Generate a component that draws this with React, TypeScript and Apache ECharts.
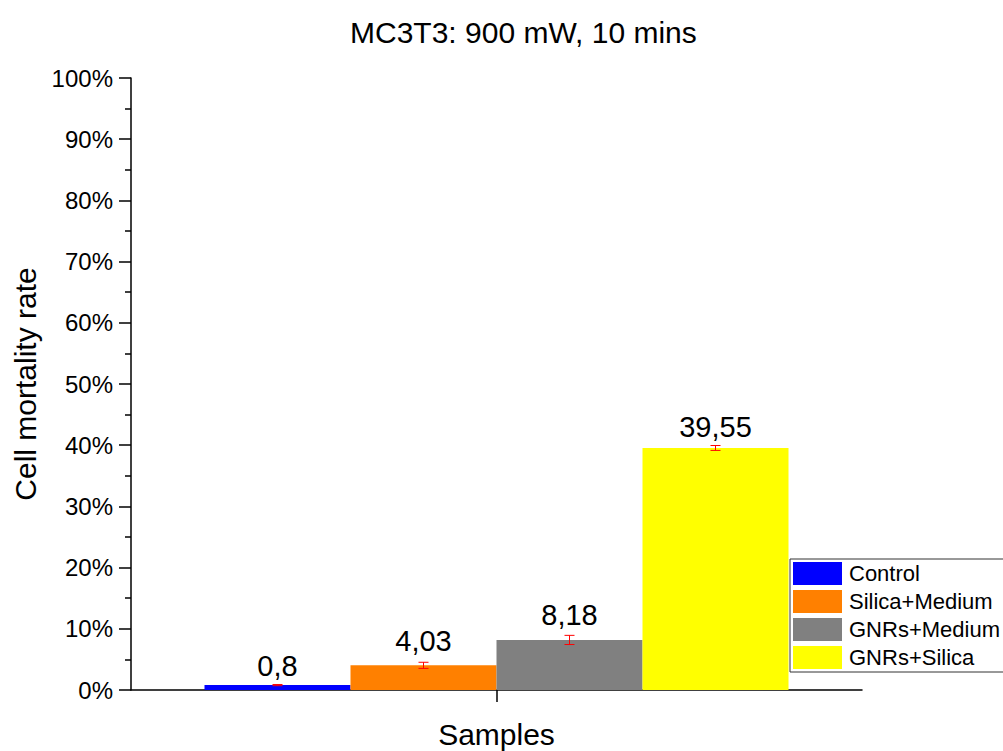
import React, { useEffect, useRef } from "react";
import * as echarts from "echarts";

const categories = ["Samples"];
const seriesNames = ["Control", "Silica+Medium", "GNRs+Medium", "GNRs+Silica"];
const seriesValues = [0.8, 4.03, 8.18, 39.55];
const seriesErrors = [0.1, 0.5, 0.75, 0.4];
const seriesColors = ["#0000FF", "#FF8000", "#808080", "#FFFF00"];
const yTicks = [0, 10, 20, 30, 40, 50, 60, 70, 80, 90, 100];

const FONT = "'Liberation Sans', Arial, sans-serif";
const BAR_WIDTH = 146;
const LABEL_DISTANCES = [5, 10, 10, 6];

export default function App() {
  const ref = useRef<HTMLDivElement>(null);
  useEffect(() => {
    if (!ref.current) return;
    const chart = echarts.init(ref.current, null, { renderer: "svg" });
    const barSeries = seriesNames.map((name, i) => ({
      name,
      type: "bar",
      data: [seriesValues[i]],
      barWidth: BAR_WIDTH,
      barGap: "0%",
      itemStyle: { color: seriesColors[i] },
      label: {
        show: true,
        position: "top",
        distance: LABEL_DISTANCES[i],
        fontSize: 29,
        fontFamily: FONT,
        color: "#000",
        formatter: (p: any) => String(p.value).replace(".", ","),
      },
      z: 2,
    }));
    const errData = seriesValues.map((v, i) => [0, v, seriesErrors[i], i]);
    const option: any = {
      animation: false,
      backgroundColor: "#fff",
      title: {
        text: "MC3T3: 900 mW, 10 mins",
        left: 345,
        top: 12,
        textStyle: { fontSize: 30, fontWeight: "normal", fontFamily: FONT, color: "#000" },
      },
      grid: { left: 131, right: 141, top: 78, bottom: 61, containLabel: false, outerBoundsMode: "none" },
      legend: {
        left: 790,
        top: 559,
        orient: "vertical",
        itemWidth: 49,
        itemHeight: 23,
        itemGap: 5,
        padding: [3, 12, 3, 3],
        borderColor: "#333",
        borderWidth: 1,
        backgroundColor: "#fff",
        icon: "rect",
        data: seriesNames,
        textStyle: { fontSize: 22, fontFamily: FONT, color: "#000", padding: [0, 0, 0, 2] },
      },
      xAxis: {
        type: "category",
        data: categories,
        name: "Samples",
        nameLocation: "middle",
        nameGap: 29,
        nameTextStyle: { fontSize: 30, fontFamily: FONT, color: "#000" },
        axisLine: { lineStyle: { color: "#000", width: 1.5 } },
        axisTick: { show: true, alignWithLabel: true, length: 12, lineStyle: { color: "#000", width: 1.5 } },
        axisLabel: { show: false },
        splitLine: { show: false },
      },
      yAxis: {
        type: "value",
        min: yTicks[0],
        max: yTicks[yTicks.length - 1],
        interval: 10,
        name: "Cell mortality rate",
        nameLocation: "middle",
        nameGap: 88,
        nameTextStyle: { fontSize: 30, fontFamily: FONT, color: "#000" },
        axisLine: { show: true, lineStyle: { color: "#000", width: 1.5 } },
        axisTick: { show: true, length: 12, lineStyle: { color: "#000", width: 1.5 } },
        minorTick: { show: true, splitNumber: 2, length: 6, lineStyle: { color: "#000", width: 1.5 } },
        axisLabel: {
          formatter: "{value}%",
          fontSize: 24,
          fontFamily: FONT,
          color: "#000",
          margin: 18,
        },
        splitLine: { show: false },
      },
      series: [
        ...barSeries,
        {
          type: "custom",
          name: "errors",
          z: 5,
          data: errData,
          renderItem: (params: any, api: any) => {
            const x = api.value(0);
            const v = api.value(1);
            const e = api.value(2);
            const idx = api.value(3);
            const top = api.coord([x, v + e]);
            const bot = api.coord([x, v - e]);
            const cx = top[0] + (idx - 1.5) * BAR_WIDTH;
            const hw = 5;
            const style = { stroke: "#FF0000", lineWidth: 1 };
            return {
              type: "group",
              children: [
                { type: "line", shape: { x1: cx, y1: top[1], x2: cx, y2: bot[1] }, style },
                { type: "line", shape: { x1: cx - hw, y1: top[1], x2: cx + hw, y2: top[1] }, style },
                { type: "line", shape: { x1: cx - hw, y1: bot[1], x2: cx + hw, y2: bot[1] }, style },
              ],
            };
          },
        },
      ],
    };
    chart.setOption(option);
    return () => chart.dispose();
  }, []);
  return (
    <div
      ref={ref}
      style={{ position: "fixed", left: 0, top: 0, width: 1003, height: 751, background: "#fff" }}
    />
  );
}
